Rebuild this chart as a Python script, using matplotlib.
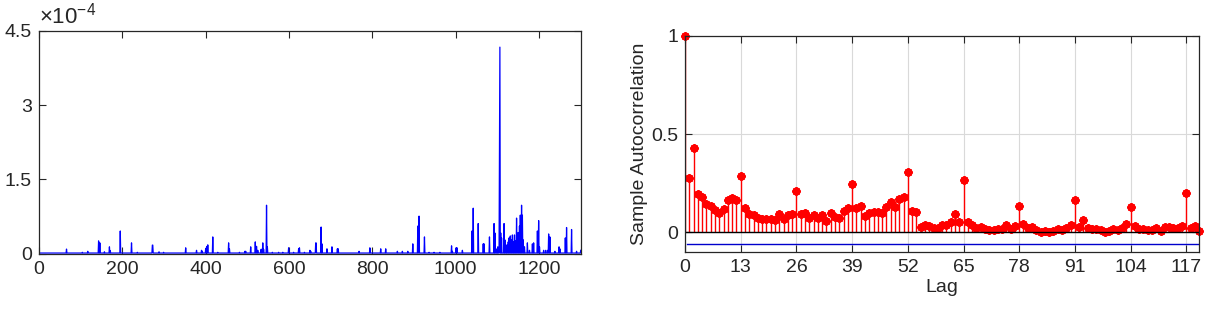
import numpy as np
from matplotlib import pyplot as plt

plt.rcParams['font.family'] = ['Liberation Sans', 'DejaVu Sans']
plt.rcParams['mathtext.default'] = 'regular'

# left panel: series of length 1300, mostly flat with spikes
n_points = 1300
baseline = 1.5e-6
spike_idx = [66, 104, 117, 143, 146, 157, 169, 171, 195, 222, 236, 272, 273, 288, 299,
             352, 378, 390, 392, 400, 403, 405, 417, 429, 455, 457, 481, 494, 496, 508,
             519, 522, 525, 533, 535, 537, 539, 546, 548, 560, 575, 585, 599, 611, 623,
             625, 637, 650, 652, 664, 665, 677, 679, 691, 703, 716, 718, 768, 794, 820,
             832, 860, 872, 885, 897, 909, 912, 925, 936, 948, 962, 990, 992, 1001, 1003,
             1016, 1039, 1042, 1054, 1066, 1068, 1081, 1092, 1094, 1099, 1101, 1105, 1106,
             1108, 1110, 1116, 1118, 1121, 1123, 1126, 1128, 1131, 1133, 1136, 1138, 1141,
             1143, 1146, 1148, 1150, 1153, 1155, 1158, 1160, 1162, 1165, 1172, 1177, 1184,
             1187, 1196, 1199, 1201, 1211, 1216, 1221, 1223, 1226, 1238, 1248, 1250, 1263,
             1266, 1278, 1290, 1300]
spike_val = [0.95, 0.3, 0.5, 2.6, 2.2, 0.4, 1.4, 0.6, 4.6, 2.2, 0.3, 1.75, 1.75, 0.4, 0.3,
             1.2, 0.7, 0.7, 0.5, 1.1, 1.5, 1.8, 3.4, 0.3, 2.2, 1.0, 0.3, 0.5, 0.5, 1.4,
             2.4, 1.5, 0.7, 0.9, 0.9, 2.2, 0.9, 9.8, 1.4, 0.3, 0.3, 0.3, 1.2, 0.3, 1.0,
             1.2, 0.3, 0.7, 0.5, 2.2, 2.2, 5.4, 2.0, 1.0, 1.4, 1.0, 1.0, 0.5, 1.2, 1.0,
             1.0, 0.5, 0.5, 0.5, 2.0, 5.6, 7.6, 3.4, 0.3, 0.3, 0.3, 1.6, 0.5, 1.2, 1.2,
             0.7, 4.6, 9.2, 6.1, 2.0, 2.0, 3.4, 6.1, 4.2, 1.0, 1.4, 22.3, 41.7,
             4.2, 3.2, 6.1, 2.8, 0.4, 1.8, 2.4, 3.2, 3.6, 2.8, 3.8, 2.4, 3.8,
             2.6, 7.2, 2.8, 4.3, 5.6, 7.8, 9.8, 7.8, 2.8, 1.4, 2.2, 0.7, 2.0,
             2.2, 4.6, 6.7, 1.4, 0.7, 0.7, 0.7, 4.0, 3.4, 0.5, 1.4, 1.0, 3.2,
             5.3, 4.9, 0.5, 0.7]
y1_ticks = [0, 1.5e-4, 3e-4, 4.5e-4]
y1_labels = ['0', '1.5', '3', '4.5']

# right panel: sample autocorrelation, lags 0..120
acf = [1.0, 0.274, 0.427, 0.194, 0.18, 0.143, 0.133, 0.112, 0.10, 0.117,
       0.163, 0.173, 0.163, 0.287, 0.126, 0.095, 0.087, 0.075, 0.066, 0.066,
       0.07, 0.061, 0.092, 0.066, 0.087, 0.092, 0.208, 0.095, 0.10, 0.075,
       0.087, 0.075, 0.087, 0.058, 0.10, 0.078, 0.075, 0.107, 0.126, 0.247,
       0.122, 0.133, 0.082, 0.10, 0.105, 0.105, 0.10, 0.131, 0.155, 0.13,
       0.168, 0.18, 0.305, 0.109, 0.105, 0.027, 0.037, 0.032, 0.022, 0.02,
       0.037, 0.037, 0.05, 0.095, 0.05, 0.264, 0.054, 0.037, 0.022, 0.027,
       0.015, 0.012, 0.012, 0.017, 0.017, 0.037, 0.015, 0.03, 0.136, 0.043,
       0.02, 0.027, 0.012, 0.0, 0.008, 0.0, 0.007, 0.017, 0.012, 0.022,
       0.037, 0.163, 0.026, 0.06, 0.022, 0.017, 0.017, 0.012, 0.0, 0.007,
       0.017, 0.013, 0.022, 0.043, 0.128, 0.03, 0.017, 0.015, 0.012, 0.013,
       0.022, 0.008, 0.026, 0.026, 0.022, 0.022, 0.03, 0.202, 0.022, 0.032,
       0.008]
lower_bound = -0.058

series = np.full(n_points, baseline)
for i, v in zip(spike_idx, spike_val):
    series[i - 1] = v * 1e-5
x = np.arange(1, n_points + 1)

txt = '#262626'
fs = 14
fig = plt.figure(figsize=(12.19, 3.11), dpi=100)

ax1 = fig.add_axes([0.032, 0.184, 0.4444, 0.717])
ax1.plot(x, series, color='blue', linewidth=0.9)
ax1.set_xlim(0, 1300)
ax1.set_ylim(0, 4.5e-4)
ax1.set_xticks(range(0, 1300, 200))
ax1.set_yticks(y1_ticks)
ax1.set_yticklabels(y1_labels)
ax1.text(0.0, 1.01, r'$\times10^{-4}$', transform=ax1.transAxes, fontsize=16,
         color=txt, ha='left', va='bottom')

ax2 = fig.add_axes([0.562, 0.19, 0.4217, 0.6945])
lags = np.arange(len(acf))
ax2.grid(True, color='#d9d9d9', linewidth=0.8)
ax2.set_axisbelow(True)
ml, sl, bl = ax2.stem(lags, acf, linefmt='r-', markerfmt='r', basefmt='k-')
plt.setp(sl, linewidth=1.0)
plt.setp(ml, marker=(8, 2, 0), markersize=6, markeredgewidth=1.6, clip_on=False)
plt.setp(bl, linewidth=1.0, xdata=[0, 120])
ax2.plot([0.5, 120], [lower_bound, lower_bound], color='#0000cc', linewidth=1.0)
ax2.set_xlim(0, 120)
ax2.set_ylim(-0.1, 1)
ax2.set_xticks(range(0, 120, 13))
ax2.set_yticks([0, 0.5, 1])
ax2.set_yticklabels(['0', '0.5', '1'])
ax2.set_xlabel('Lag', fontsize=fs, color=txt, labelpad=2)
ax2.set_ylabel('Sample Autocorrelation', fontsize=fs, color=txt, labelpad=2)

for ax in (ax1, ax2):
    ax.tick_params(direction='in', top=True, right=True, labelsize=fs, colors=txt,
                   length=5, width=0.8, pad=5)
    for s in ax.spines.values():
        s.set_color(txt)
        s.set_linewidth(0.9)

plt.savefig('out.png', dpi=100)
